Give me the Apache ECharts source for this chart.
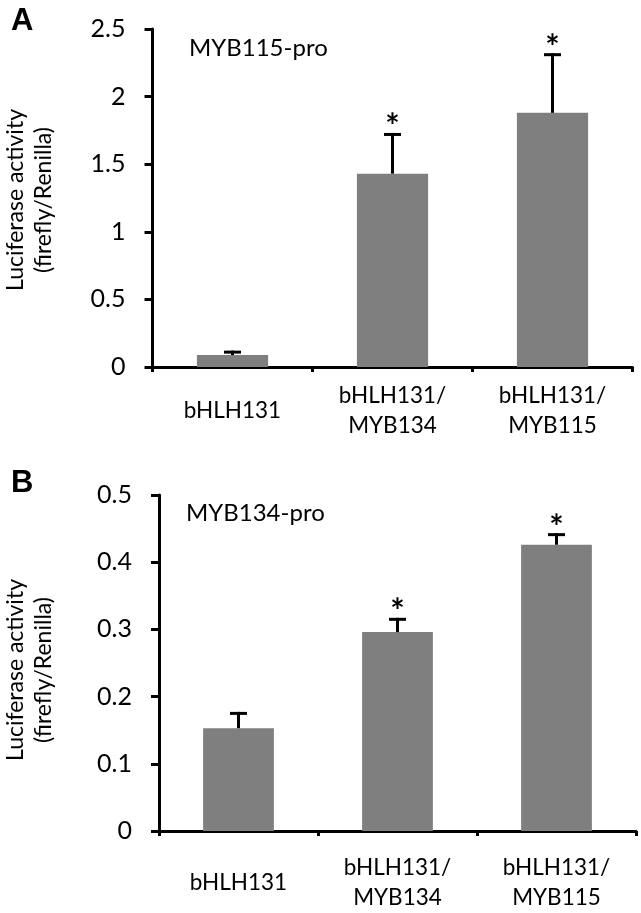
<!DOCTYPE html>
<html><head><meta charset="utf-8">
<script src="https://cdn.jsdelivr.net/npm/echarts@6/dist/echarts.min.js"></script>
<style>html,body{margin:0;padding:0;background:#fff}#c{width:641px;height:913px}</style>
</head><body><div id="c"></div>
<script>
var categories = ['bHLH131', 'bHLH131/\nMYB134', 'bHLH131/\nMYB115'];
var valuesA = [0.088, 1.43, 1.88];
var errorsA = [0.022, 0.29, 0.43];
var valuesB = [0.153, 0.296, 0.426];
var errorsB = [0.022, 0.019, 0.015];
var marks = ['', '*', '*'];
var titleA = 'MYB115-pro';
var titleB = 'MYB134-pro';
var yName = 'Luciferase activity\n(firefly/Renilla)';

var FONT = 'Lato, "Open Sans", sans-serif';
var chart = echarts.init(document.getElementById('c'));

function errData(vals, errs) {
  return vals.map(function (v, i) { return [i, v, v + errs[i], marks[i]]; });
}
function renderErr(params, api) {
  var x = api.value(0);
  var base = api.coord([x, api.value(1)]);
  var top = api.coord([x, api.value(2)]);
  var cap = 8.5;
  var st = { stroke: '#000', lineWidth: 3 };
  var children = [
    { type: 'line', shape: { x1: base[0], y1: base[1], x2: top[0], y2: top[1] - 1.5 }, style: st },
    { type: 'line', shape: { x1: top[0] - cap, y1: top[1], x2: top[0] + cap, y2: top[1] }, style: st }
  ];
  var m = api.value(3);
  if (m) {
    children.push({ type: 'text', x: top[0], y: top[1] - 7,
      style: { text: m, fill: '#000', font: 'bold 34px ' + FONT, align: 'center', verticalAlign: 'middle' } });
  }
  return { type: 'group', children: children };
}

function xAxis(gi, margin) {
  return {
    type: 'category', gridIndex: gi, data: categories,
    axisLine: { lineStyle: { color: '#000', width: 3 } },
    axisTick: { show: true, length: 5, lineStyle: { color: '#000', width: 3 } },
    axisLabel: { color: '#000', fontSize: 22.5, fontFamily: FONT, lineHeight: 30, verticalAlign: 'middle', margin: margin, interval: 0 }
  };
}
function yAxis(gi, max, interval) {
  return {
    type: 'value', gridIndex: gi, min: 0, max: max, interval: interval,
    axisLine: { show: true, lineStyle: { color: '#000', width: 3 } },
    axisTick: { show: true, length: 8, lineStyle: { color: '#000', width: 3 } },
    splitLine: { show: false },
    axisLabel: { color: '#000', fontSize: 25, fontFamily: FONT, margin: 27 }
  };
}
function yTitle(cy) {
  return { type: 'text', x: 30, y: cy, rotation: Math.PI / 2,
    style: { text: yName, fill: '#000', font: '23px ' + FONT, lineHeight: 28, align: 'center', verticalAlign: 'middle' } };
}

chart.setOption({
  animation: false,
  backgroundColor: '#fff',
  title: [
    { text: 'A', left: 6, top: 1, textStyle: { fontSize: 31, fontWeight: 'bold', fontFamily: 'Liberation Sans, Arial', color: '#000' } },
    { text: 'B', left: 6, top: 463, textStyle: { fontSize: 31, fontWeight: 'bold', fontFamily: 'Liberation Sans, Arial', color: '#000' } },
    { text: titleA, left: 189, top: 36, padding: 0, textStyle: { fontSize: 24, fontWeight: 'normal', fontFamily: FONT, color: '#000' } },
    { text: titleB, left: 186, top: 501, padding: 0, textStyle: { fontSize: 24, fontWeight: 'normal', fontFamily: FONT, color: '#000' } }
  ],
  graphic: [yTitle(200), yTitle(670)],
  grid: [
    { left: 152.5, width: 480, top: 29, height: 338 },
    { left: 159, width: 477, top: 495, height: 342 }
  ],
  xAxis: [xAxis(0, 44), xAxis(1, 52)],
  yAxis: [yAxis(0, 2.5, 0.5), yAxis(1, 0.5, 0.1)],
  series: [
    { type: 'bar', xAxisIndex: 0, yAxisIndex: 0, data: valuesA, barWidth: '44.5%', itemStyle: { color: '#7f7f7f' } },
    { type: 'custom', xAxisIndex: 0, yAxisIndex: 0, data: errData(valuesA, errorsA), renderItem: renderErr, z: 5 },
    { type: 'bar', xAxisIndex: 1, yAxisIndex: 1, data: valuesB, barWidth: '44.5%', itemStyle: { color: '#7f7f7f' } },
    { type: 'custom', xAxisIndex: 1, yAxisIndex: 1, data: errData(valuesB, errorsB), renderItem: renderErr, z: 5 }
  ]
});
</script></body></html>
